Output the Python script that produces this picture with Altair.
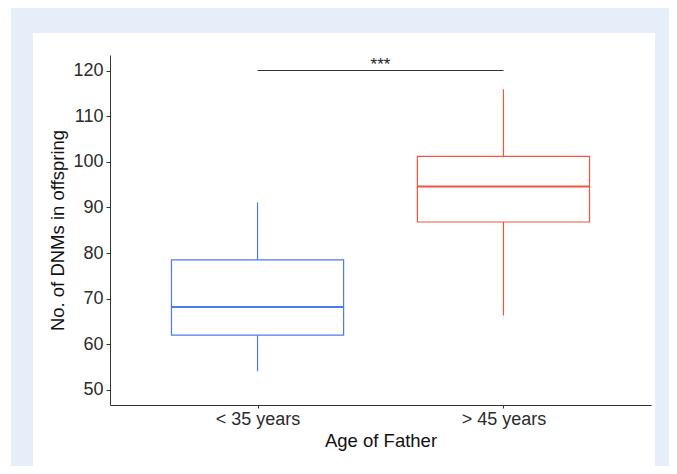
import altair as alt
import pandas as pd

groups = ["< 35 years", "> 45 years"]
whisker_low = [54.1, 66.3]
q1 = [62.0, 86.8]
median = [68.2, 94.6]
q3 = [78.5, 101.2]
whisker_high = [91.1, 115.9]
colors = ["#4a7cf0", "#f4553c"]
sig_label = "***"
sig_y = 120
y_ticks = [50, 60, 70, 80, 90, 100, 110, 120]

half = 0.35
df = pd.DataFrame({
    "group": groups,
    "pos": [i + 1 for i in range(len(groups))],
    "lo": [i + 1 - half for i in range(len(groups))],
    "hi": [i + 1 + half for i in range(len(groups))],
    "wmin": whisker_low, "q1": q1, "med": median, "q3": q3, "wmax": whisker_high,
})

font = "Liberation Sans"
label_expr = " : ".join(
    [f"datum.value == {i+1} ? '{g}'" for i, g in enumerate(groups[:-1])] + [f"'{groups[-1]}'"]
)

xscale = alt.Scale(domain=[0.4, 2.6], nice=False, zero=False)
yscale = alt.Scale(domain=[46.7, 123.4], nice=False, zero=False)
color = alt.Color("group:N", scale=alt.Scale(domain=groups, range=colors), legend=None)

xaxis = alt.Axis(values=[1, 2], labelExpr=label_expr, title="Age of Father", grid=False, zindex=1,
                 labelFont=font, labelFontSize=18, labelColor="#2b2b2b", labelPadding=2,
                 titleFont=font, titleFontSize=18.5, titleFontWeight="normal", titleColor="#111111",
                 titlePadding=3, domainColor="#333333", tickColor="#333333", tickSize=3)
yaxis = alt.Axis(values=y_ticks, title="No. of DNMs in offspring", grid=False, zindex=1,
                 labelFont=font, labelFontSize=18, labelColor="#2b2b2b", labelPadding=3,
                 titleFont=font, titleFontSize=18.5, titleFontWeight="normal", titleColor="#111111",
                 titlePadding=5, domainColor="#333333", tickColor="#333333", tickSize=4)

base = alt.Chart(df)

bg_blue = alt.Chart(pd.DataFrame({"a": [0]})).mark_rect(color="#e6eef9").encode(
    x=alt.value(-99), x2=alt.value(559), y=alt.value(-47), y2=alt.value(420))
bg_white = alt.Chart(pd.DataFrame({"a": [0]})).mark_rect(color="#ffffff").encode(
    x=alt.value(-77), x2=alt.value(545), y=alt.value(-22), y2=alt.value(420))

whisk_hi = base.mark_rule(strokeWidth=1.2).encode(
    x=alt.X("pos:Q", scale=xscale, axis=xaxis),
    y=alt.Y("q3:Q", scale=yscale, axis=yaxis), y2="wmax:Q", color=color)
whisk_lo = base.mark_rule(strokeWidth=1.2).encode(
    x=alt.X("pos:Q", scale=xscale), y=alt.Y("wmin:Q", scale=yscale), y2="q1:Q", color=color)
box = base.mark_rect(fill="white", strokeWidth=1.2).encode(
    x=alt.X("lo:Q", scale=xscale), x2="hi:Q",
    y=alt.Y("q1:Q", scale=yscale), y2="q3:Q", stroke=alt.Stroke("group:N", scale=alt.Scale(domain=groups, range=colors), legend=None))
med = base.mark_rule(strokeWidth=2).encode(
    x=alt.X("lo:Q", scale=xscale), x2="hi:Q", y=alt.Y("med:Q", scale=yscale), color=color)

sig_df = pd.DataFrame({"x1": [1], "x2": [2], "xm": [1.5], "y": [sig_y], "label": [sig_label]})
sig_rule = alt.Chart(sig_df).mark_rule(color="#333333", strokeWidth=1).encode(
    x=alt.X("x1:Q", scale=xscale), x2="x2:Q", y=alt.Y("y:Q", scale=yscale))
sig_text = alt.Chart(sig_df).mark_text(font=font, fontSize=17, color="#222222", baseline="alphabetic", dy=-1).encode(
    x=alt.X("xm:Q", scale=xscale), y=alt.Y("y:Q", scale=yscale), text="label:N")

chart = alt.layer(bg_blue, bg_white, whisk_hi, whisk_lo, box, med, sig_rule, sig_text).properties(
    width=541, height=350,
    padding={"left": 102, "top": 47, "right": 18, "bottom": 61},
    autosize=alt.AutoSizeParams(type="none"),
    background="white",
).configure_view(stroke=None)

chart.save("out.html", embed_options={"renderer": "svg", "actions": False})
